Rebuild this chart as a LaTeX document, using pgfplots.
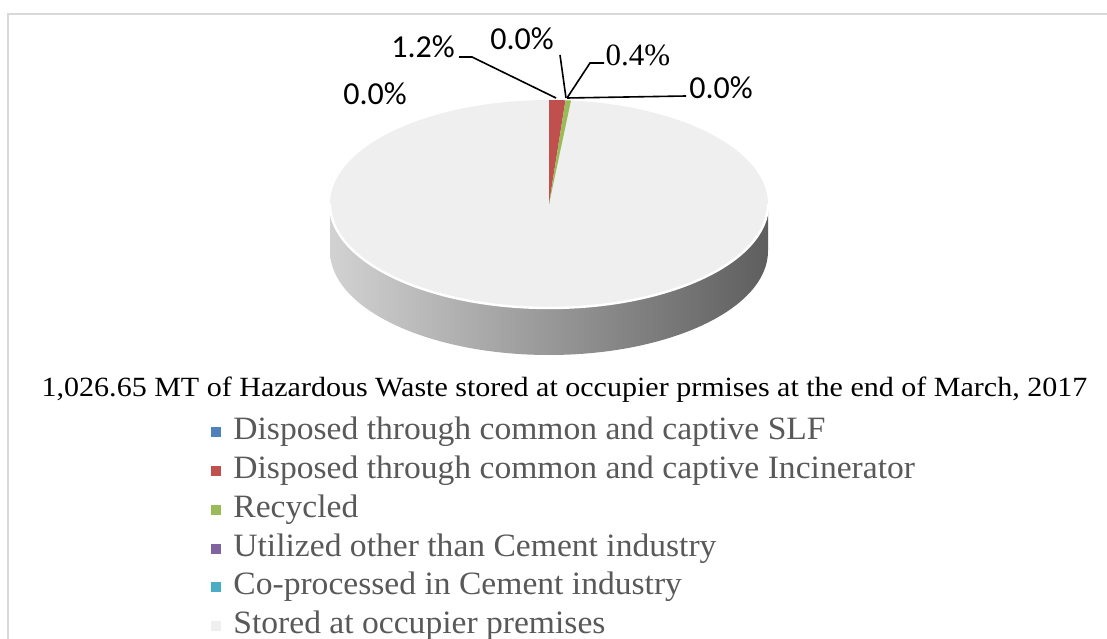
\documentclass[border=0pt]{standalone}
\usepackage{pgfplots}
\pgfplotsset{compat=1.18}
\usepackage{pgfplotstable}
\usepackage{fontspec}
\setmainfont{Liberation Serif}
\newfontfamily\cambria{Liberation Serif}[FakeStretch=1.08]
\newfontfamily\cambrialeg{Liberation Serif}[FakeStretch=1.03]
\newfontfamily\calibri{Carlito}
\newfontfamily\timesf{Liberation Serif}
\definecolor{cSLF}{HTML}{4F81BD}
\definecolor{cInc}{HTML}{C0504D}
\definecolor{cRec}{HTML}{9BBB59}
\definecolor{cUti}{HTML}{8064A2}
\definecolor{cCop}{HTML}{4BACC6}
\definecolor{cSto}{HTML}{EFEFEF}
\definecolor{sideL}{HTML}{D2D2D2}
\definecolor{sideM}{HTML}{9C9C9C}
\definecolor{sideR}{HTML}{5E5E5E}
\definecolor{legtext}{HTML}{595959}
\definecolor{frame}{HTML}{D9D9D9}

% share of each category, percent (SLF, Incinerator, Recycled, Utilized, Co-processed, Stored)
\pgfplotstableread{
pct
0.0
1.2
0.4
0.0
0.0
98.4
}\piedata

\begin{document}
\begin{tikzpicture}
\pgfplotstablegetelem{0}{pct}\of\piedata \let\pA\pgfplotsretval
\pgfplotstablegetelem{1}{pct}\of\piedata \let\pB\pgfplotsretval
\pgfplotstablegetelem{2}{pct}\of\piedata \let\pC\pgfplotsretval
\pgfplotstablegetelem{3}{pct}\of\piedata \let\pD\pgfplotsretval
\pgfplotstablegetelem{4}{pct}\of\piedata \let\pE\pgfplotsretval
\pgfmathsetmacro\aA{90-3.6*\pA}
\pgfmathsetmacro\aB{\aA-3.6*\pB}
\pgfmathsetmacro\aC{\aB-3.6*\pC}
\pgfmathsetmacro\aD{\aC-3.6*\pD}
\pgfmathsetmacro\aE{\aD-3.6*\pE}
\begin{axis}[hide axis, scale only axis, width=553.5pt, height=319pt,
  xmin=0, xmax=1107, ymin=0, ymax=638, clip=false]
\addplot[draw=none] coordinates {(0,0) (1107,638)};
% frame
\draw[frame, line width=0.8pt] (axis cs:8,-5) -- (axis cs:8,624) -- (axis cs:1110,624);
% side of the pie
\shade[left color=sideL, middle color=sideM, right color=sideR]
  (axis cs:330,434) arc[start angle=180, end angle=360, x radius=109.5pt, y radius=52pt]
  -- (axis cs:768,387) arc[start angle=0, end angle=-180, x radius=109.5pt, y radius=52pt] -- cycle;
% top face (stored)
\fill[cSto] (axis cs:549,434) ellipse[x radius=109.5pt, y radius=52pt];
\draw[white, line width=1.2pt] (axis cs:330,434) arc[start angle=180, end angle=360, x radius=109.5pt, y radius=52pt];
% slices
\fill[cSLF] (axis cs:549,434) -- +(90:109.5pt and 52pt) arc[start angle=90, end angle=\aA, x radius=109.5pt, y radius=52pt] -- cycle;
\fill[cInc] (axis cs:549,434) -- +(\aA:109.5pt and 52pt) arc[start angle=\aA, end angle=\aB, x radius=109.5pt, y radius=52pt] -- cycle;
\fill[cRec] (axis cs:549,434) -- +(\aB:109.5pt and 52pt) arc[start angle=\aB, end angle=\aC, x radius=109.5pt, y radius=52pt] -- cycle;
% leader lines
\draw[black, line width=0.8pt] (axis cs:459,581) -- (axis cs:472,581) -- (axis cs:556,540);
\draw[black, line width=0.8pt] (axis cs:560,583) -- (axis cs:566,540);
\draw[black, line width=0.8pt] (axis cs:604,575) -- (axis cs:590,575) -- (axis cs:567,540);
\draw[black, line width=0.8pt] (axis cs:567,540) -- (axis cs:686,542);
% data labels
\node[font=\calibri\fontsize{16}{18}\selectfont] at (axis cs:375,544) {0.0\%};
\node[font=\calibri\fontsize{16}{18}\selectfont] at (axis cs:423,591) {1.2\%};
\node[font=\calibri\fontsize{16}{18}\selectfont] at (axis cs:522,599) {0.0\%};
\node[font=\timesf\fontsize{15.5}{18}\selectfont] at (axis cs:638,583) {0.4\%};
\node[font=\calibri\fontsize{16}{18}\selectfont] at (axis cs:721,550) {0.0\%};
% title
\node[font=\cambria\fontsize{13.9}{16}\selectfont] at (axis cs:564.5,248)
  {1,026.65 MT of Hazardous Waste stored at occupier prmises at the end of March, 2017};
% legend
\fill[cSLF] (axis cs:211,201) rectangle (axis cs:221,211);
\fill[cInc] (axis cs:211,162) rectangle (axis cs:221,172);
\fill[cRec] (axis cs:211,123) rectangle (axis cs:221,133);
\fill[cUti] (axis cs:211,84) rectangle (axis cs:221,94);
\fill[cCop] (axis cs:211,46) rectangle (axis cs:221,56);
\fill[cSto] (axis cs:211,7) rectangle (axis cs:221,17);
\node[anchor=west, inner sep=0pt, text=legtext, font=\cambrialeg\fontsize{16.3}{18}\selectfont] at (axis cs:233,206) {Disposed through common and captive SLF};
\node[anchor=west, inner sep=0pt, text=legtext, font=\cambrialeg\fontsize{16.3}{18}\selectfont] at (axis cs:233,167) {Disposed through common and captive Incinerator};
\node[anchor=west, inner sep=0pt, text=legtext, font=\cambrialeg\fontsize{16.3}{18}\selectfont] at (axis cs:233,128) {Recycled};
\node[anchor=west, inner sep=0pt, text=legtext, font=\cambrialeg\fontsize{16.3}{18}\selectfont] at (axis cs:233,89) {Utilized other than Cement industry};
\node[anchor=west, inner sep=0pt, text=legtext, font=\cambrialeg\fontsize{16.3}{18}\selectfont] at (axis cs:233,51) {Co-processed in Cement industry};
\node[anchor=west, inner sep=0pt, text=legtext, font=\cambrialeg\fontsize{16.3}{18}\selectfont] at (axis cs:233,12) {Stored at occupier premises};
\end{axis}
\pgfresetboundingbox
\useasboundingbox (current axis.south west) rectangle (current axis.north east);
\end{tikzpicture}
\end{document}
